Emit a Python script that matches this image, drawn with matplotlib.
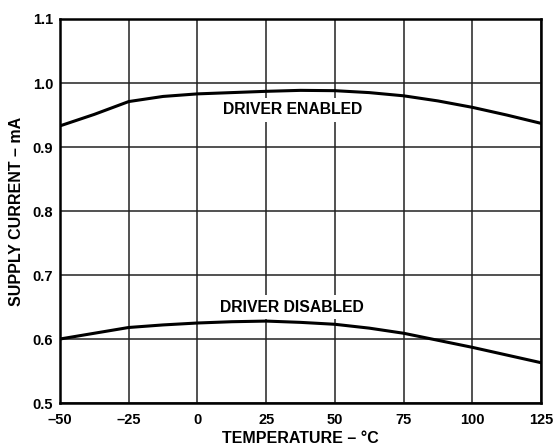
import matplotlib
matplotlib.use('Agg')
import matplotlib.pyplot as plt

plt.rcParams['font.family'] = ['Liberation Sans', 'DejaVu Sans']
plt.rcParams['font.weight'] = 'bold'

# Supply current vs temperature
temp = [-50, -37.5, -25, -12.5, 0, 12.5, 25, 37.5, 50, 62.5, 75, 87.5, 100, 112.5, 125]
enabled = [0.933, 0.951, 0.971, 0.979, 0.983, 0.985, 0.987, 0.9885, 0.988,
           0.985, 0.980, 0.972, 0.962, 0.950, 0.937]
disabled = [0.600, 0.609, 0.618, 0.622, 0.625, 0.627, 0.628, 0.626, 0.623,
            0.617, 0.609, 0.598, 0.587, 0.575, 0.563]

xticks = [-50, -25, 0, 25, 50, 75, 100, 125]
xticklabels = ['\u201350', '\u201325', '0', '25', '50', '75', '100', '125']
yticks = [0.5, 0.6, 0.7, 0.8, 0.9, 1.0, 1.1]
yticklabels = ['0.5', '0.6', '0.7', '0.8', '0.9', '1.0', '1.1']

fig = plt.figure(figsize=(5.58, 4.46), dpi=100)
ax = fig.add_axes([0.1075, 0.0964, 0.862, 0.861])

ax.plot(temp, enabled, color='black', linewidth=2.2, zorder=3)
ax.plot(temp, disabled, color='black', linewidth=2.2, zorder=3)

ax.set_xlim(-50, 125)
ax.set_ylim(0.5, 1.1)
ax.set_xticks(xticks)
ax.set_xticklabels(xticklabels)
ax.set_yticks(yticks)
ax.set_yticklabels(yticklabels)
ax.tick_params(length=0, labelsize=10.5, pad=5)
ax.tick_params(axis='x', pad=7)
ax.grid(True, color='#222222', linewidth=1.1)
ax.set_axisbelow(True)
for s in ax.spines.values():
    s.set_linewidth(1.8)

ax.text(34.5, 0.958, 'DRIVER ENABLED', ha='center', va='center', fontsize=11.3,
        fontweight='bold', zorder=2,
        bbox=dict(facecolor='white', edgecolor='none', pad=3))
ax.text(34.5, 0.650, 'DRIVER DISABLED', ha='center', va='center', fontsize=11.3,
        fontweight='bold', zorder=2,
        bbox=dict(facecolor='white', edgecolor='none', pad=3))

ax.set_xlabel('TEMPERATURE \u2013 \u00b0C', fontsize=11.5, fontweight='bold', labelpad=3)
ax.set_ylabel('SUPPLY CURRENT \u2013 mA', fontsize=11.5, fontweight='bold', labelpad=6)

fig.savefig('out.png', dpi=100)
